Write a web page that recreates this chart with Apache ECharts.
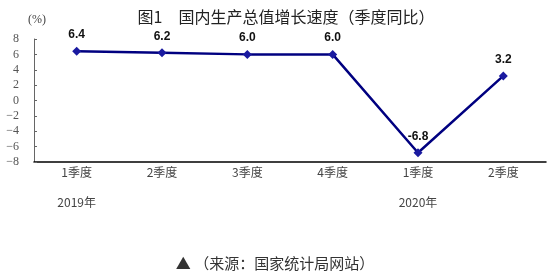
<!DOCTYPE html>
<html><head><meta charset="utf-8">
<script src="https://cdn.jsdelivr.net/npm/echarts@6/dist/echarts.min.js"></script>
<style>html,body{margin:0;padding:0;background:#fff}#c{width:550px;height:280px}</style>
</head><body><div id="c"></div>
<script>
var categories = ['1季度','2季度','3季度','4季度','1季度','2季度'];
var years = ['2019年','','','','2020年',''];
var values = [6.4, 6.2, 6.0, 6.0, -6.8, 3.2];
var valueLabels = ['6.4','6.2','6.0','6.0','-6.8','3.2'];
var yTicks = [-8,-6,-4,-2,0,2,4,6,8];

var chart = echarts.init(document.getElementById('c'), null, {renderer:'canvas'});
var cjk = '"Noto Sans CJK SC", sans-serif';
chart.setOption({
  animation:false,
  title:{text:'图1　国内生产总值增长速度（季度同比）', left:281, top:4, textAlign:'center',
    textStyle:{fontFamily:cjk, fontSize:16, fontWeight:'normal', color:'#222'}},
  graphic:[
    {type:'text', left:28, top:14, style:{text:'(%)', fontSize:12, fontFamily:'"Liberation Serif", serif', fill:'#444'}},
    {type:'text', left:'center', top:256, style:{text:'▲ （来源：国家统计局网站）', fontSize:15, fontFamily:cjk, fill:'#333'}}
  ],
  grid:{left:34, right:4, top:39, bottom:118},
  xAxis:[
    {type:'category', data:categories, boundaryGap:true,
     axisLine:{onZero:false, lineStyle:{color:'#000', width:1.5}}, axisTick:{show:false},
     axisLabel:{fontFamily:cjk, fontSize:12, color:'#444', margin:4}},
    {type:'category', data:years, position:'bottom', offset:26, boundaryGap:true,
     axisLine:{show:false, onZero:false}, axisTick:{show:false},
     axisLabel:{fontFamily:cjk, fontSize:12, color:'#444', interval:0}}
  ],
  yAxis:{type:'value', min:-8, max:8, interval:2,
    axisLine:{show:true, lineStyle:{color:'#666', width:1}},
    axisTick:{show:true, inside:true, length:3, lineStyle:{color:'#666'}},
    splitLine:{show:false},
    axisLabel:{fontFamily:'"Liberation Serif", serif', fontSize:12, color:'#555', margin:15,
      formatter:function(v){return v<0 ? '\u2212'+Math.abs(v) : ''+v;}}},
  series:[{type:'line', data:values, xAxisIndex:0,
    symbol:'diamond', symbolSize:9,
    lineStyle:{color:'#000080', width:2.5},
    itemStyle:{color:'#1a1aa0'},
    label:{show:true, position:'top', distance:6, fontFamily:'"Liberation Sans", Arial, sans-serif', fontWeight:'bold', fontSize:12, color:'#111',
      formatter:function(p){return valueLabels[p.dataIndex];}}}]
});
</script></body></html>
